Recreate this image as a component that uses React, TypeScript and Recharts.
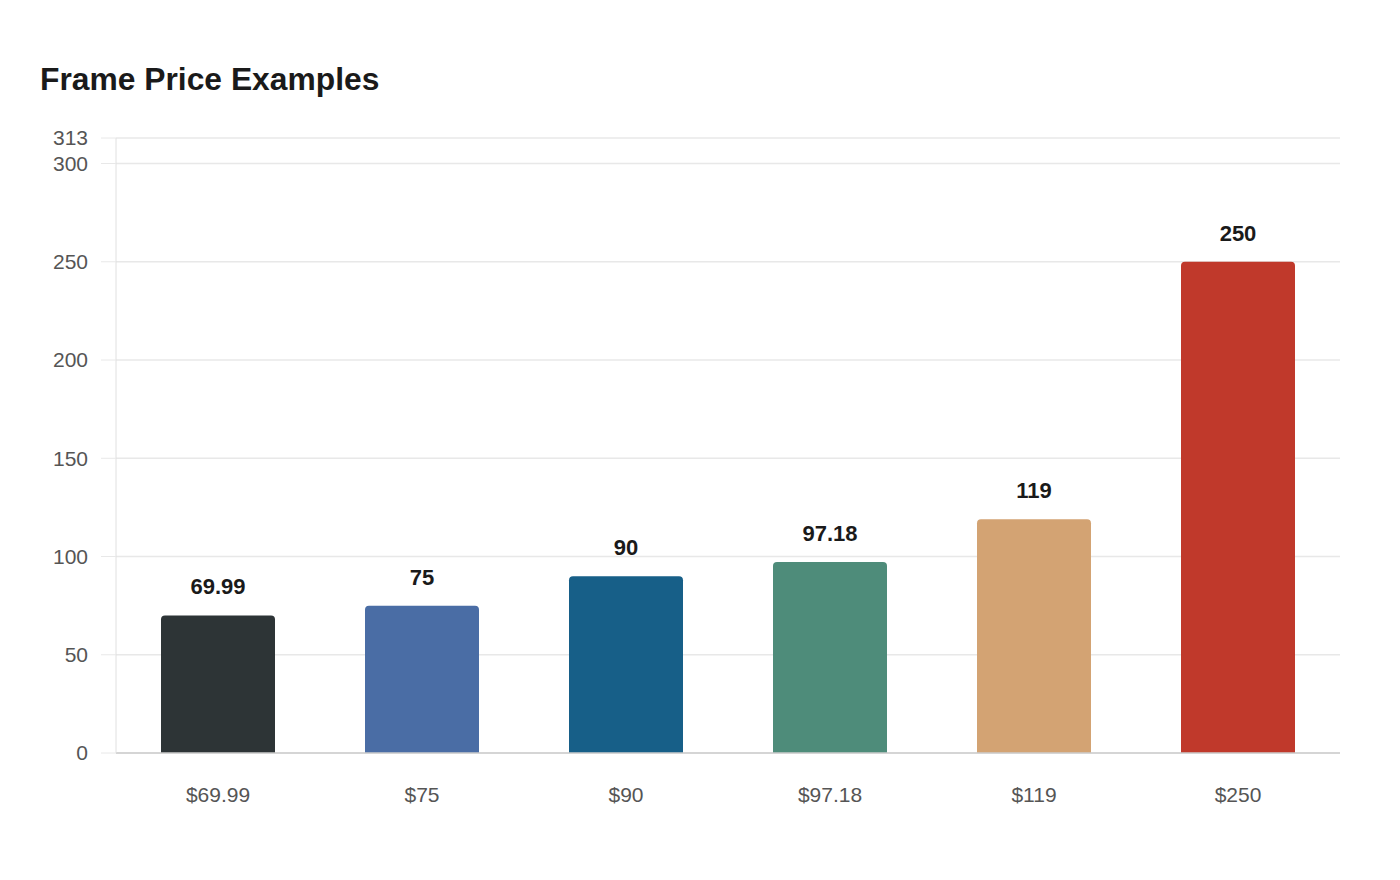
import React from 'react';
import { Bar, BarChart, CartesianGrid, Cell, LabelList, XAxis, YAxis } from 'recharts';

const categories = ['$69.99', '$75', '$90', '$97.18', '$119', '$250'];
const prices = [69.99, 75, 90, 97.18, 119, 250];
const barColors = ['#2d3436', '#4a6da5', '#175f88', '#4e8c7a', '#d3a373', '#c0392b'];
const yTicks = [0, 50, 100, 150, 200, 250, 300, 313];

const data = categories.map((name, i) => ({ name, price: prices[i] }));

const font = '"Liberation Sans", Arial, sans-serif';

const App = () => {
  return (
    <div style={{ position: 'absolute', left: 0, top: 0, width: 1400, height: 880, background: '#fff', fontFamily: font }}>
      <div
        style={{
          position: 'absolute',
          left: 40,
          top: 64,
          fontSize: 31.8,
          fontWeight: 700,
          color: '#1a1a1a',
          lineHeight: 1,
        }}
      >
        Frame Price Examples
      </div>
      <BarChart
        width={1400}
        height={880}
        data={data}
        margin={{ top: 138, right: 60, bottom: 67, left: 36 }}
        barSize={114}
      >
        <CartesianGrid vertical={false} stroke="#e8e8e8" strokeWidth={1.5} />
        <XAxis
          dataKey="name"
          height={60}
          stroke="#cccccc"
          strokeWidth={1.5}
          tickLine={false}
          tickSize={0}
          tickMargin={34}
          tick={{ fill: '#555', fontSize: 21, fontFamily: font }}
        />
        <YAxis
          width={80}
          domain={[0, 313]}
          ticks={yTicks}
          interval={0}
          stroke="#e0e0e0"
          tickLine={{ stroke: '#e8e8e8' }}
          tickSize={15}
          tickMargin={13}
          tick={{ fill: '#555', fontSize: 21, fontFamily: font }}
        />
        <Bar dataKey="price" radius={[4, 4, 0, 0]} isAnimationActive={false}>
          {data.map((d, i) => (
            <Cell key={d.name} fill={barColors[i]} />
          ))}
          <LabelList
            dataKey="price"
            position="top"
            offset={21}
            style={{ fill: '#1a1a1a', fontSize: 22, fontWeight: 700, fontFamily: font }}
          />
        </Bar>
      </BarChart>
    </div>
  );
};

export default App;
